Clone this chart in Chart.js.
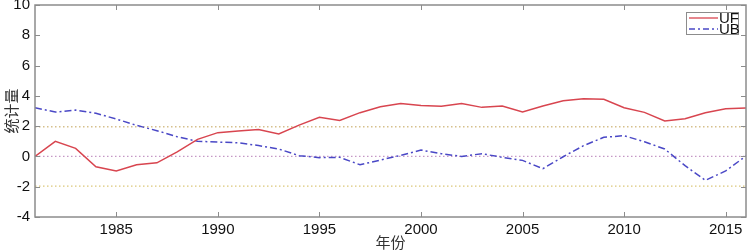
<!DOCTYPE html>
<html>
<head>
<meta charset="utf-8">
<script src="https://cdn.jsdelivr.net/npm/chart.js@4"></script>
<style>
  html, body { margin: 0; padding: 0; background: #fff; }
  #wrap { width: 748px; height: 251px; }
</style>
</head>
<body>
<div id="wrap"><canvas id="chart"></canvas></div>
<script>
// years on the x axis
const years = [1981, 1982, 1983, 1984, 1985, 1986, 1987, 1988, 1989, 1990,
  1991, 1992, 1993, 1994, 1995, 1996, 1997, 1998, 1999, 2000,
  2001, 2002, 2003, 2004, 2005, 2006, 2007, 2008, 2009, 2010,
  2011, 2012, 2013, 2014, 2015, 2016];

// UF statistic (forward)
const ufValues = [0, 1.0, 0.53, -0.68, -0.96, -0.55, -0.42, 0.3, 1.13, 1.57,
  1.68, 1.77, 1.48, 2.07, 2.58, 2.38, 2.89, 3.28, 3.5, 3.37,
  3.31, 3.5, 3.24, 3.33, 2.93, 3.33, 3.68, 3.81, 3.77, 3.22,
  2.91, 2.34, 2.49, 2.89, 3.15, 3.2];

// UB statistic (backward)
const ubValues = [3.22, 2.93, 3.06, 2.85, 2.47, 2.05, 1.7, 1.3, 1.0, 0.95,
  0.9, 0.72, 0.49, 0.05, -0.08, -0.06, -0.55, -0.24, 0.07, 0.42,
  0.18, 0.0, 0.18, -0.06, -0.26, -0.81, -0.02, 0.71, 1.26, 1.37,
  0.97, 0.49, -0.61, -1.58, -0.96, 0.03];

// significance lines
const refLevels = [1.96, 0, -1.96];
const refColors = ['#d6c08c', '#c598c5', '#dcc77a'];

const xTicks = [1985, 1990, 1995, 2000, 2005, 2010, 2015];
const yTicks = [-4, -2, 0, 2, 4, 6, 8, 10];

const tickFont = { family: "'Liberation Sans Narrow', 'Liberation Sans', sans-serif", size: 15 };
const cjkFont = "'Noto Sans CJK SC', sans-serif";

const refDatasets = refLevels.map((lvl, i) => ({
  label: 'ref' + i,
  data: [{ x: years[0], y: lvl }, { x: years[years.length - 1], y: lvl }],
  borderColor: refColors[i],
  borderWidth: 1.3,
  borderDash: [1.5, 2.5],
  pointRadius: 0,
  order: 3
}));

// frame, inner tick marks and legend box
const framePlugin = {
  id: 'frame',
  afterDraw(chart) {
    const { ctx, chartArea: a, scales } = chart;
    ctx.save();
    ctx.strokeStyle = '#8c8c8c';
    ctx.lineWidth = 1.5;
    ctx.strokeRect(a.left, a.top, a.right - a.left, a.bottom - a.top);
    ctx.lineWidth = 1;
    ctx.beginPath();
    xTicks.forEach(t => {
      const px = Math.round(scales.x.getPixelForValue(t)) + 0.5;
      ctx.moveTo(px, a.bottom); ctx.lineTo(px, a.bottom - 5);
      ctx.moveTo(px, a.top); ctx.lineTo(px, a.top + 5);
    });
    yTicks.forEach(t => {
      const py = Math.round(scales.y.getPixelForValue(t)) + 0.5;
      ctx.moveTo(a.left, py); ctx.lineTo(a.left + 5, py);
      ctx.moveTo(a.right, py); ctx.lineTo(a.right - 5, py);
    });
    ctx.stroke();

    // legend
    const bx = 686, by = 12, bw = 52, bh = 22;
    ctx.fillStyle = '#fff';
    ctx.fillRect(bx, by, bw, bh);
    ctx.strokeStyle = '#8c8c8c';
    ctx.strokeRect(bx + 0.5, by + 0.5, bw, bh);
    const items = [
      { name: 'UF', color: chart.data.datasets[0].borderColor, dash: [] },
      { name: 'UB', color: chart.data.datasets[1].borderColor, dash: [6, 3, 2, 3] }
    ];
    ctx.font = '15px ' + tickFont.family;
    ctx.textBaseline = 'middle';
    items.forEach((it, i) => {
      const y = by + 6 + i * 11;
      ctx.strokeStyle = it.color;
      ctx.lineWidth = 1.3;
      ctx.setLineDash(it.dash);
      ctx.beginPath();
      ctx.moveTo(bx + 3, y); ctx.lineTo(bx + 32, y);
      ctx.stroke();
      ctx.setLineDash([]);
      ctx.fillStyle = '#111';
      ctx.fillText(it.name, bx + 33, y + 1);
    });
    ctx.restore();
  }
};

new Chart(document.getElementById('chart'), {
  type: 'line',
  data: {
    datasets: [
      {
        label: 'UF',
        data: years.map((yr, i) => ({ x: yr, y: ufValues[i] })),
        borderColor: '#d8454f',
        borderWidth: 1.5,
        pointRadius: 0,
        tension: 0,
        order: 1
      },
      {
        label: 'UB',
        data: years.map((yr, i) => ({ x: yr, y: ubValues[i] })),
        borderColor: '#4a48c6',
        borderWidth: 1.5,
        borderDash: [7, 3, 2, 3],
        pointRadius: 0,
        tension: 0,
        order: 2
      },
      ...refDatasets
    ]
  },
  options: {
    responsive: true,
    maintainAspectRatio: false,
    animation: false,
    layout: { padding: { top: 5, right: 2, bottom: 0, left: 0 } },
    plugins: {
      legend: { display: false },
      tooltip: { enabled: false }
    },
    scales: {
      x: {
        type: 'linear',
        min: 1981,
        max: 2016,
        grid: { display: false, drawTicks: false },
        border: { display: false },
        afterBuildTicks(scale) { scale.ticks = xTicks.map(v => ({ value: v })); },
        afterFit(scale) { scale.height = 34; scale.paddingLeft = 0; scale.paddingRight = 0; },
        ticks: {
          font: tickFont,
          color: '#111',
          padding: 4,
          maxRotation: 0,
          callback: v => String(v)
        },
        title: {
          display: true,
          text: '年份',
          font: { family: cjkFont, size: 15 },
          color: '#333',
          padding: 0
        }
      },
      y: {
        min: -4,
        max: 10,
        grid: { display: false, drawTicks: false },
        border: { display: false },
        afterBuildTicks(scale) { scale.ticks = yTicks.map(v => ({ value: v })); },
        afterFit(scale) { scale.width = 35; scale.paddingTop = 0; scale.paddingBottom = 0; },
        ticks: {
          font: tickFont,
          color: '#111',
          padding: 5
        },
        title: {
          display: true,
          text: '统计量',
          font: { family: cjkFont, size: 15 },
          color: '#333',
          padding: 2
        }
      }
    }
  },
  plugins: [framePlugin]
});
</script>
</body>
</html>
